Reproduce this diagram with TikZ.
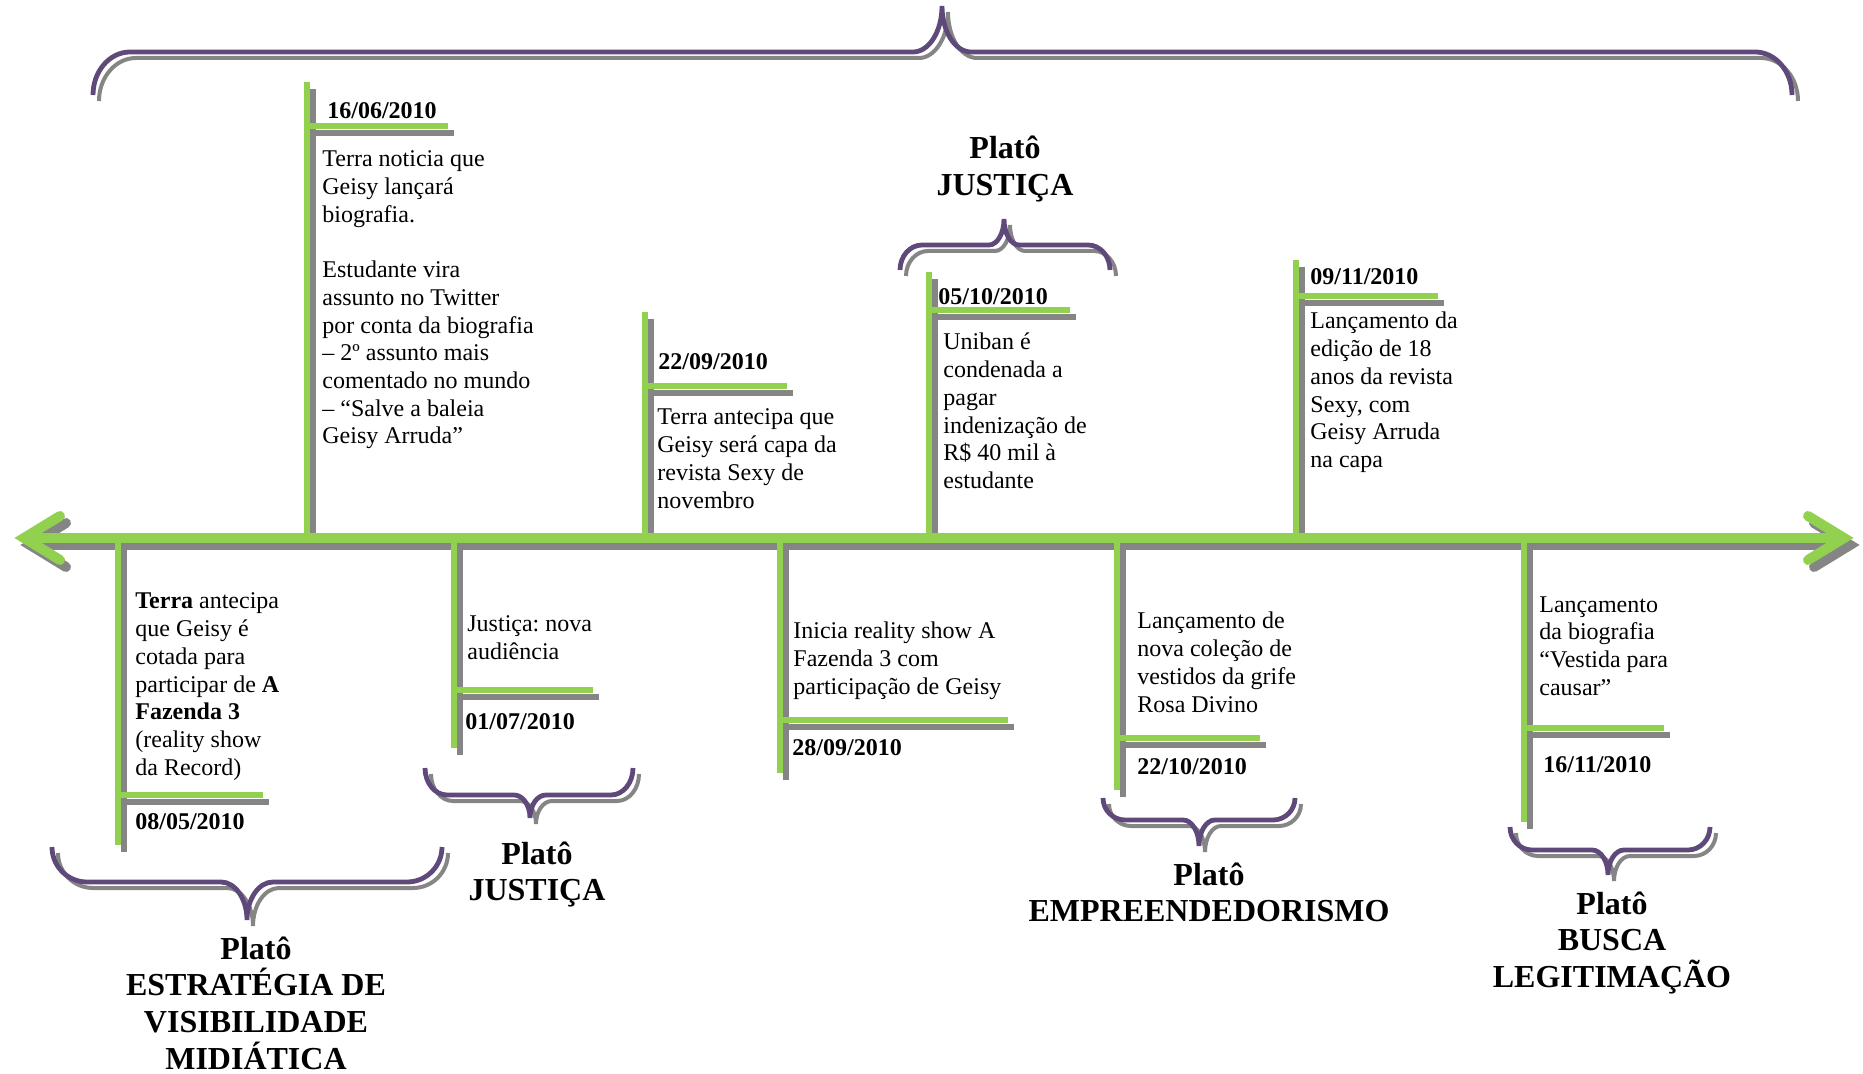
\documentclass[tikz,border=0pt]{standalone}
\usepackage{fontspec}
\setmainfont{Liberation Serif}
\frenchspacing
\definecolor{tlgreen}{HTML}{92D050}
\definecolor{brpurple}{HTML}{5F497A}
\definecolor{shgray}{HTML}{858585}
\newcommand{\tl}[1]{\vtop{\lineskiplimit=-50pt\let\\\cr\halign{##\hfil\cr#1\crcr}}}
\newcommand{\tc}[1]{\vtop{\lineskiplimit=-50pt\let\\\cr\halign{\hfil##\hfil\cr#1\crcr}}}
% brace: xL xR yEnd yHoriz xTip yTip rEnd rCenter
\newcommand{\mybrace}[9][]{%
  \draw[#1] (#2,#4) .. controls (#2,{#4+0.552*(#5-#4)}) and ({#2+0.448*#8},#5) .. ({#2+#8},#5)
    -- ({#6-#9},#5) .. controls ({#6-0.448*#9},#5) and (#6,{#5+0.448*(#7-#5)}) .. (#6,#7)
    .. controls (#6,{#5+0.448*(#7-#5)}) and ({#6+0.448*#9},#5) .. ({#6+#9},#5)
    -- ({#3-#8},#5) .. controls ({#3-0.448*#8},#5) and (#3,{#4+0.552*(#5-#4)}) .. (#3,#4);}
\newcommand{\bothbrace}[8]{%
  \mybrace[brshadow]{#1}{#2}{#3}{#4}{#5}{#6}{#7}{#8}%
  \mybrace[brline]{#1}{#2}{#3}{#4}{#5}{#6}{#7}{#8}}
\begin{document}
\begin{tikzpicture}[x=0.5pt,y=-0.5pt,
  axisline/.style={line width=5pt, line cap=round, line join=miter},
  stemline/.style={line width=3pt},
  shad/.style={draw=shgray, transform canvas={shift={(3pt,-3.5pt)}}},
  grn/.style={draw=tlgreen},
  brline/.style={draw=brpurple, line width=2.4pt},
  brshadow/.style={draw=shgray, line width=2pt, transform canvas={shift={(3pt,-3pt)}}},
  txt/.style={anchor=base west, inner sep=0pt, font=\fontsize{12}{13.85}\selectfont\frenchspacing},
  dat/.style={anchor=base west, inner sep=0pt, font=\fontsize{12}{13.85}\selectfont\bfseries},
  ttl/.style={anchor=base, inner sep=0pt, font=\fontsize{16}{18.4}\selectfont\bfseries}]
\useasboundingbox (0,0) rectangle (1863,1074);
% axis
\coordinate (axL) at (24,538);
\coordinate (axR) at (1844,538);
\coordinate (wl1) at (60,516);
\coordinate (wl2) at (60,560);
\coordinate (wr1) at (1808,516);
\coordinate (wr2) at (1808,560);
% stems: 0 axis, 1 end, 2 bar start, 3 bar end
\coordinate (A0) at (118,538);  \coordinate (A1) at (118,845);
\coordinate (A2) at (118,795);  \coordinate (A3) at (263,795);
\coordinate (B0) at (307,538);  \coordinate (B1) at (307,82);
\coordinate (B2) at (307,126);  \coordinate (B3) at (448,126);
\coordinate (C0) at (454,538);  \coordinate (C1) at (454,748);
\coordinate (C2) at (454,690);  \coordinate (C3) at (593,690);
\coordinate (D0) at (645,538);  \coordinate (D1) at (645,312);
\coordinate (D2) at (645,386);  \coordinate (D3) at (787,386);
\coordinate (E0) at (780,538);  \coordinate (E1) at (780,773);
\coordinate (E2) at (780,720);  \coordinate (E3) at (1008,720);
\coordinate (F0) at (929,538);  \coordinate (F1) at (929,272);
\coordinate (F2) at (929,310);  \coordinate (F3) at (1070,310);
\coordinate (G0) at (1117,538); \coordinate (G1) at (1117,790);
\coordinate (G2) at (1117,738); \coordinate (G3) at (1260,738);
\coordinate (H0) at (1296,538); \coordinate (H1) at (1296,260);
\coordinate (H2) at (1296,296); \coordinate (H3) at (1438,296);
\coordinate (I0) at (1524,538); \coordinate (I1) at (1524,822);
\coordinate (I2) at (1524,728); \coordinate (I3) at (1664,728);
\newcommand{\greens}[1]{%
  \draw[#1,axisline] (axL) -- (axR);
  \draw[#1,axisline] (wl1) -- (axL) -- (wl2);
  \draw[#1,axisline] (wr1) -- (axR) -- (wr2);
  \foreach \e in {A,B,C,D,E,F,G,H,I}{
    \draw[#1,stemline] (\e0) -- (\e1);
    \draw[#1,stemline] (\e2) -- (\e3);
  }}
\greens{shad}
\greens{grn}
% braces
\bothbrace{93}{1792}{95}{52}{942}{6}{37}{29}
\bothbrace{52}{442}{847}{882}{247}{920}{35}{26}
\bothbrace{425}{633}{768}{795}{530}{818}{22}{16}
\bothbrace{900}{1110}{270}{245}{1004}{219}{22}{15}
\bothbrace{1103}{1295}{798}{820}{1199}{846}{22}{16}
\bothbrace{1510}{1710}{827}{850}{1608}{875}{22}{16}
% dates
\node[dat] (dA) at (135,829) {08/05/2010};
\node[dat] (dB) at (327,119) {16/06/2010};
\node[dat] (dC) at (465,729) {01/07/2010};
\node[dat] (dD) at (658,370) {22/09/2010};
\node[dat] (dE) at (792,755) {28/09/2010};
\node[dat] (dF) at (938,305) {05/10/2010};
\node[dat] (dG) at (1137,774) {22/10/2010};
\node[dat] (dH) at (1310,285) {09/11/2010};
\node[dat] (dI) at (1543,772) {16/11/2010};
% texts
\node[txt] (xA) at (135,609) {\tl{\textbf{Terra} antecipa\\que Geisy é\\cotada para\\participar de \textbf{A}\\\textbf{Fazenda 3}\\(reality show\\da Record)}};
\node[txt] (xB) at (322,167) {\tl{Terra noticia que\\Geisy lançará\\biografia.\\\\Estudante vira\\assunto no Twitter\\por conta da biografia\\– 2º assunto mais\\comentado no mundo\\– “Salve a baleia\\Geisy Arruda”}};
\node[txt] (xC) at (467,632) {\tl{Justiça: nova\\audiência}};
\node[txt] (xD) at (657,425) {\tl{Terra antecipa que\\Geisy será capa da\\revista Sexy de\\novembro}};
\node[txt] (xE) at (793,639) {\tl{Inicia reality show A\\Fazenda 3 com\\participação de Geisy}};
\node[txt] (xF) at (943,350) {\tl{Uniban é\\condenada a\\pagar\\indenização de\\R\$ 40 mil à\\estudante}};
\node[txt] (xG) at (1137,629) {\tl{Lançamento de\\nova coleção de\\vestidos da grife\\Rosa Divino}};
\node[txt] (xH) at (1310,329) {\tl{Lançamento da\\edição de 18\\anos da revista\\Sexy, com\\Geisy Arruda\\na capa}};
\node[txt] (xI) at (1539,612) {\tl{Lançamento\\da biografia\\“Vestida para\\causar”}};
% titles
\node[ttl] (tA) at (256,959) {\tc{Platô\\ESTRATÉGIA DE\\VISIBILIDADE\\MIDIÁTICA}};
\node[ttl] (tC) at (537,864) {\tc{Platô\\JUSTIÇA}};
\node[ttl] (tJ) at (1005,159) {\tc{Platô\\JUSTIÇA}};
\node[ttl] (tG) at (1209,885) {\tc{Platô\\EMPREENDEDORISMO}};
\node[ttl] (tI) at (1612,914) {\tc{Platô\\BUSCA\\LEGITIMAÇÃO}};
\end{tikzpicture}
\end{document}
